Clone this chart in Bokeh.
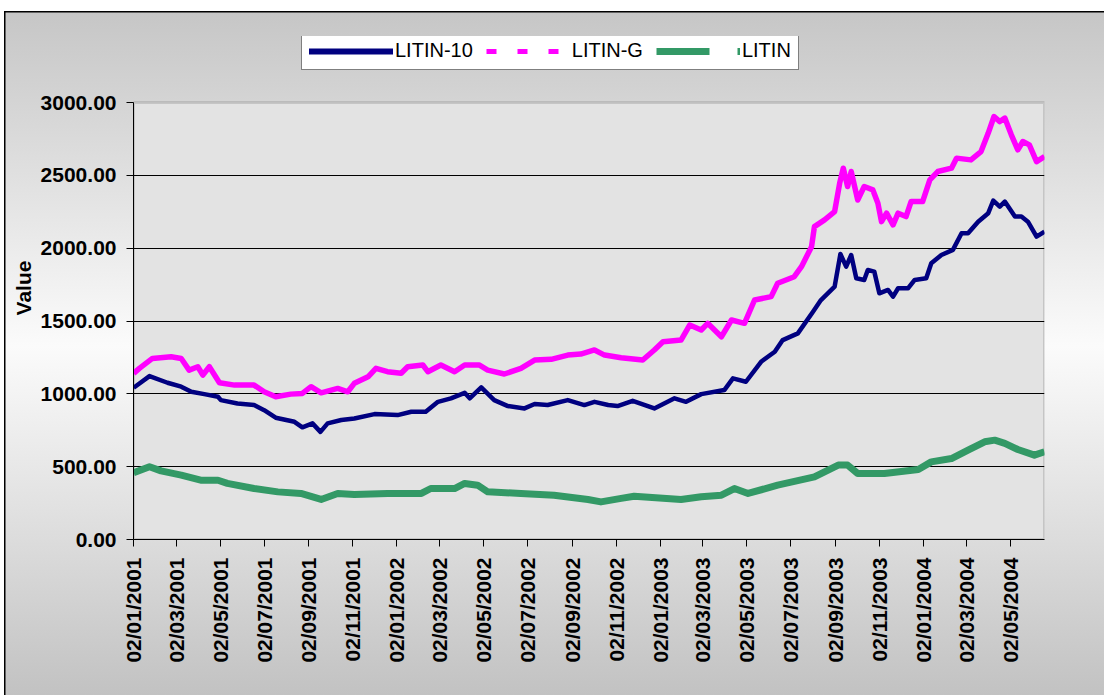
import numpy as np
import pandas as pd
from bokeh.plotting import figure
from bokeh.models import (ColumnDataSource, Range1d, FixedTicker, NumeralTickFormatter,
                          DatetimeTickFormatter, Legend, LegendItem, BoxAnnotation)
from bokeh.embed import file_html
from bokeh.resources import INLINE

# ---------------- data ----------------
litin10_dates = [
    "2001-01-02", "2001-01-24", "2001-02-18", "2001-03-09", "2001-03-23", "2001-04-10",
    "2001-04-29", "2001-05-03", "2001-05-26", "2001-06-18", "2001-07-02", "2001-07-18",
    "2001-08-13", "2001-08-24", "2001-09-07", "2001-09-18", "2001-09-28", "2001-10-17",
    "2001-11-04", "2001-12-02", "2002-01-03", "2002-01-22", "2002-02-11", "2002-02-28",
    "2002-03-18", "2002-04-06", "2002-04-13", "2002-04-29", "2002-05-17", "2002-06-05",
    "2002-06-28", "2002-07-12", "2002-07-30", "2002-08-27", "2002-09-19", "2002-10-03",
    "2002-10-22", "2002-11-04", "2002-11-25", "2002-12-25", "2003-01-22", "2003-02-07",
    "2003-02-28", "2003-04-01", "2003-04-13", "2003-05-01", "2003-05-22", "2003-06-10",
    "2003-06-21", "2003-07-12", "2003-08-02", "2003-08-13", "2003-09-01", "2003-09-09",
    "2003-09-17", "2003-09-24", "2003-10-01", "2003-10-12", "2003-10-17", "2003-10-26",
    "2003-11-02", "2003-11-14", "2003-11-21", "2003-11-28", "2003-12-12", "2003-12-21",
    "2004-01-06", "2004-01-13", "2004-01-27", "2004-02-12", "2004-02-24", "2004-03-04",
    "2004-03-18", "2004-04-01", "2004-04-08", "2004-04-17", "2004-04-24", "2004-05-08",
    "2004-05-17", "2004-05-26", "2004-06-07", "2004-06-18",
]
litin10_values = [
    1042, 1122, 1076, 1049, 1014, 998,
    980, 957, 934, 923, 888, 836,
    808, 770, 797, 739, 797, 820,
    831, 861, 854, 877, 877, 945,
    969, 1007, 969, 1044, 957, 916,
    900, 930, 923, 957, 923, 945,
    923, 916, 952, 900, 969, 945,
    998, 1026, 1106, 1083, 1220, 1289,
    1369, 1415, 1564, 1644, 1736, 1960,
    1873, 1953, 1793, 1782, 1850, 1839,
    1690, 1713, 1667, 1725, 1725, 1782,
    1793, 1896, 1953, 1988, 2102, 2102,
    2182, 2240, 2327, 2285, 2320, 2217,
    2217, 2182, 2079, 2113,
]

litin_g_dates = [
    "2001-01-02", "2001-01-10", "2001-01-28", "2001-02-23", "2001-03-09", "2001-03-20",
    "2001-04-01", "2001-04-08", "2001-04-17", "2001-05-01", "2001-05-22", "2001-06-18",
    "2001-07-02", "2001-07-18", "2001-08-08", "2001-08-24", "2001-09-05", "2001-09-19",
    "2001-10-12", "2001-10-26", "2001-11-04", "2001-11-23", "2001-12-04", "2001-12-20",
    "2002-01-08", "2002-01-17", "2002-02-07", "2002-02-14", "2002-03-04", "2002-03-23",
    "2002-04-06", "2002-04-26", "2002-05-08", "2002-05-31", "2002-06-23", "2002-07-12",
    "2002-08-04", "2002-08-27", "2002-09-14", "2002-10-03", "2002-10-17", "2002-11-09",
    "2002-12-09", "2002-12-25", "2003-01-06", "2003-01-31", "2003-02-12", "2003-02-28",
    "2003-03-09", "2003-03-28", "2003-04-11", "2003-04-29", "2003-05-13", "2003-06-05",
    "2003-06-14", "2003-07-07", "2003-07-17", "2003-07-31", "2003-08-04", "2003-08-18",
    "2003-09-01", "2003-09-08", "2003-09-13", "2003-09-19", "2003-09-24", "2003-10-03",
    "2003-10-12", "2003-10-24", "2003-10-31", "2003-11-05", "2003-11-12", "2003-11-21",
    "2003-11-28", "2003-12-09", "2003-12-16", "2004-01-01", "2004-01-11", "2004-01-22",
    "2004-02-10", "2004-02-17", "2004-03-08", "2004-03-22", "2004-04-01", "2004-04-09",
    "2004-04-17", "2004-04-24", "2004-05-03", "2004-05-12", "2004-05-19", "2004-05-28",
    "2004-06-07", "2004-06-18",
]
litin_g_values = [
    1140, 1175, 1243, 1255, 1243, 1163,
    1186, 1129, 1186, 1076, 1060, 1060,
    1014, 980, 998, 1003, 1049, 1007,
    1037, 1014, 1072, 1117, 1175, 1152,
    1141, 1186, 1198, 1152, 1198, 1152,
    1198, 1198, 1163, 1136, 1175, 1232,
    1237, 1266, 1273, 1301, 1266, 1248,
    1232, 1301, 1358, 1369, 1472, 1438,
    1484, 1392, 1507, 1484, 1644, 1667,
    1759, 1804, 1873, 2010, 2148, 2194,
    2251, 2446, 2549, 2423, 2526, 2331,
    2423, 2400, 2309, 2182, 2240, 2160,
    2240, 2217, 2320, 2320, 2469, 2526,
    2549, 2618, 2606, 2663, 2790, 2904,
    2869, 2893, 2778, 2675, 2732, 2709,
    2594, 2629,
]

litin_dates = [
    "2001-01-02", "2001-01-24", "2001-02-09", "2001-03-09", "2001-04-05", "2001-04-29",
    "2001-05-12", "2001-06-18", "2001-07-21", "2001-08-22", "2001-09-19", "2001-10-12",
    "2001-11-04", "2001-12-20", "2002-02-05", "2002-02-18", "2002-03-23", "2002-04-06",
    "2002-04-24", "2002-05-08", "2002-06-23", "2002-08-08", "2002-09-24", "2002-10-12",
    "2002-11-09", "2002-11-27", "2003-01-31", "2003-02-28", "2003-03-28", "2003-04-15",
    "2003-05-04", "2003-06-14", "2003-08-04", "2003-09-06", "2003-09-19", "2003-10-03",
    "2003-11-09", "2003-12-26", "2004-01-13", "2004-02-10", "2004-03-04", "2004-03-27",
    "2004-04-10", "2004-04-24", "2004-05-12", "2004-06-04", "2004-06-18",
]
litin_values = [
    458, 499, 471, 442, 407, 407,
    385, 350, 327, 316, 275, 316,
    309, 316, 316, 350, 350, 385,
    373, 327, 316, 304, 275, 258,
    282, 297, 275, 293, 304, 350,
    316, 373, 430, 511, 511, 453,
    453, 481, 533, 556, 614, 671,
    682, 660, 618, 579, 602,
]

tick_dates = [
    "2001-01-02", "2001-03-02", "2001-05-02", "2001-07-02", "2001-09-02", "2001-11-02",
    "2002-01-02", "2002-03-02", "2002-05-02", "2002-07-02", "2002-09-02", "2002-11-02",
    "2003-01-02", "2003-03-02", "2003-05-02", "2003-07-02", "2003-09-02", "2003-11-02",
    "2004-01-02", "2004-03-02", "2004-05-02",
]
y_ticks = [0, 500, 1000, 1500, 2000, 2500, 3000]
grid_values = [500, 1000, 1500, 2000, 2500]
y_max = 3000

series_names = ["LITIN-10", "LITIN-G", "LITIN"]
series_colors = ["#000080", "#FF00FF", "#339966"]

# ---------------- figure ----------------
FONT = "Liberation Sans"

x_start = pd.Timestamp("2001-01-01 20:00")
x_end = pd.Timestamp("2004-06-18")

# the frame reaches up to the legend, so the legend is not clipped;
# the visible plot area (0..3000) is drawn as a box annotation
FRAME_H = 503
PLOT_H = 437
y_top = y_max * FRAME_H / PLOT_H

p = figure(width=1100, height=684, x_axis_type="datetime",
           x_range=Range1d(x_start, x_end), y_range=Range1d(0, y_top),
           output_backend="svg", toolbar_location=None,
           min_border_left=129, min_border_right=60,
           min_border_top=25, min_border_bottom=156)

p.border_fill_color = None
p.background_fill_color = None
p.outline_line_color = None
p.styles = {
    "margin-left": "4px",
    "margin-top": "11px",
    "background": "linear-gradient(180deg, #c6c6c6 0%, #e4e4e4 28%, #fbfbfb 49%, #e2e2e2 72%, #c2c2c2 100%)",
    "box-shadow": "inset 1.5px 1.5px 0 0 #000000",
}

plot_area = BoxAnnotation(bottom=0, top=y_max, fill_color="#e3e3e3", fill_alpha=1,
                          line_color="#808080", line_width=3, level="image")
p.add_layout(plot_area)

src10 = ColumnDataSource(dict(x=pd.to_datetime(litin10_dates), y=litin10_values))
srcg = ColumnDataSource(dict(x=pd.to_datetime(litin_g_dates), y=litin_g_values))
srcl = ColumnDataSource(dict(x=pd.to_datetime(litin_dates), y=litin_values))

p.line("x", "y", source=src10, color=series_colors[0], line_width=4.5, line_join="round")
p.line("x", "y", source=srcg, color=series_colors[1], line_width=5.5, line_join="round")
p.line("x", "y", source=srcl, color=series_colors[2], line_width=7, line_join="round")

# legend-only glyphs (styled like the reference legend); their single point is empty
nan_src = dict(x=[np.nan], y=[np.nan])
lg10 = p.line(x="x", y="y", source=ColumnDataSource(dict(nan_src)),
              color=series_colors[0], line_width=6, line_cap="round")
lgg = p.line(x="x", y="y", source=ColumnDataSource(dict(nan_src)),
             color=series_colors[1], line_width=5, line_dash="10 21")
lgl = p.line(x="x", y="y", source=ColumnDataSource(dict(nan_src)),
             color=series_colors[2], line_width=7, line_dash="53 28 3 100")

legend = Legend(items=[LegendItem(label=series_names[0], renderers=[lg10]),
                       LegendItem(label=series_names[1], renderers=[lgg]),
                       LegendItem(label=series_names[2], renderers=[lgl])],
                orientation="horizontal", location=(168, FRAME_H - 34))
legend.border_line_color = "#000000"
legend.border_line_width = 1
legend.background_fill_color = "#ffffff"
legend.background_fill_alpha = 1
legend.glyph_width = 84
legend.glyph_height = 20
legend.label_height = 20
legend.label_standoff = 2
legend.spacing = 13
legend.padding = 7
legend.margin = 0
legend.label_text_font = FONT
legend.label_text_font_size = "20px"
legend.label_text_color = "#000000"
p.add_layout(legend, "center")

# axes
p.xgrid.grid_line_color = None
p.ygrid.grid_line_color = "#000000"
p.ygrid.grid_line_width = 1
p.ygrid.ticker = FixedTicker(ticks=grid_values)

p.yaxis.ticker = FixedTicker(ticks=y_ticks)
p.yaxis.bounds = (0, y_max)
p.yaxis.formatter = NumeralTickFormatter(format="0.00")
p.yaxis.axis_label = "Value"
p.yaxis.axis_label_text_font = FONT
p.yaxis.axis_label_text_font_style = "bold"
p.yaxis.axis_label_text_font_size = "21px"
p.yaxis.axis_label_text_color = "#000000"
p.yaxis.axis_label_standoff = 3
p.yaxis.major_label_standoff = 10

tick_ms = [pd.Timestamp(d).value // 10**6 for d in tick_dates]
p.xaxis.ticker = FixedTicker(ticks=tick_ms)
fmt = "%d/%m/%Y"
p.xaxis.formatter = DatetimeTickFormatter(
    microseconds=fmt, milliseconds=fmt, seconds=fmt, minsec=fmt, minutes=fmt,
    hourmin=fmt, hours=fmt, days=fmt, months=fmt, years=fmt,
    context=None)
p.xaxis.major_label_orientation = np.pi / 2
p.xaxis.major_label_standoff = 11

for ax in (p.xaxis[0], p.yaxis[0]):
    ax.axis_line_color = "#000000"
    ax.axis_line_width = 1
    ax.major_tick_line_color = "#000000"
    ax.major_tick_out = 7
    ax.major_tick_in = 0
    ax.minor_tick_line_color = None
    ax.major_label_text_font = FONT
    ax.major_label_text_font_style = "bold"
    ax.major_label_text_font_size = "21px"
    ax.major_label_text_color = "#000000"

open("out.html", "w").write(file_html(p, INLINE))
